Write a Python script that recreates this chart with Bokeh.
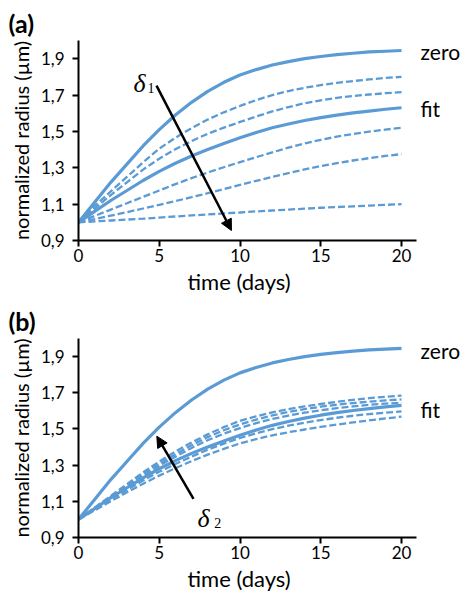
from bokeh.plotting import figure
from bokeh.models import Range1d, FixedTicker, Arrow, NormalHead, Title
from bokeh.layouts import column
from bokeh.embed import file_html
from bokeh.resources import INLINE
from bokeh.core.properties import value

# ---------------- data ----------------
days = list(range(0, 21))

zero = [1.000, 1.110, 1.220, 1.320, 1.420, 1.510, 1.590, 1.660, 1.720, 1.770, 1.810,
        1.840, 1.865, 1.884, 1.900, 1.912, 1.922, 1.930, 1.937, 1.941, 1.945]
fit = [1.000, 1.060, 1.120, 1.175, 1.230, 1.280, 1.325, 1.365, 1.400, 1.434, 1.465,
       1.494, 1.520, 1.541, 1.560, 1.576, 1.590, 1.602, 1.612, 1.622, 1.630]

# panel (a): delta_1 variations
a_d1 = [1.000, 1.090, 1.170, 1.250, 1.330, 1.405, 1.465, 1.518, 1.565, 1.605, 1.640,
        1.672, 1.700, 1.722, 1.740, 1.755, 1.767, 1.777, 1.786, 1.794, 1.800]
a_d2 = [1.000, 1.075, 1.150, 1.220, 1.290, 1.350, 1.402, 1.447, 1.487, 1.521, 1.552,
        1.582, 1.610, 1.634, 1.655, 1.671, 1.685, 1.695, 1.703, 1.710, 1.716]
a_d3 = [1.000, 1.035, 1.070, 1.105, 1.140, 1.175, 1.210, 1.243, 1.274, 1.303, 1.331,
        1.358, 1.385, 1.411, 1.434, 1.454, 1.471, 1.486, 1.499, 1.510, 1.520]
a_d4 = [1.000, 1.018, 1.037, 1.056, 1.076, 1.096, 1.117, 1.138, 1.160, 1.183, 1.206,
        1.228, 1.250, 1.271, 1.291, 1.309, 1.325, 1.340, 1.353, 1.365, 1.375]
a_d5 = [1.000, 1.005, 1.010, 1.015, 1.020, 1.026, 1.032, 1.038, 1.043, 1.049, 1.054,
        1.060, 1.065, 1.070, 1.075, 1.080, 1.084, 1.088, 1.092, 1.096, 1.100]
a_dashed = [a_d1, a_d2, a_d3, a_d4, a_d5]

# panel (b): delta_2 variations
b_d1 = [1.000, 1.065, 1.130, 1.195, 1.260, 1.320, 1.375, 1.425, 1.470, 1.510, 1.545,
        1.570, 1.592, 1.610, 1.625, 1.638, 1.650, 1.661, 1.670, 1.678, 1.684]
b_d2 = [1.000, 1.063, 1.125, 1.188, 1.250, 1.308, 1.360, 1.410, 1.455, 1.493, 1.525,
        1.552, 1.575, 1.594, 1.610, 1.623, 1.634, 1.643, 1.651, 1.658, 1.663]
b_d3 = [1.000, 1.060, 1.120, 1.180, 1.240, 1.296, 1.347, 1.395, 1.438, 1.474, 1.505,
        1.532, 1.555, 1.574, 1.590, 1.603, 1.615, 1.625, 1.633, 1.640, 1.645]
b_d4 = [1.000, 1.055, 1.110, 1.163, 1.215, 1.263, 1.306, 1.347, 1.385, 1.419, 1.450,
        1.476, 1.499, 1.518, 1.535, 1.549, 1.562, 1.573, 1.582, 1.590, 1.597]
b_d5 = [1.000, 1.050, 1.100, 1.150, 1.197, 1.242, 1.283, 1.322, 1.358, 1.390, 1.420,
        1.444, 1.465, 1.482, 1.497, 1.511, 1.524, 1.536, 1.547, 1.558, 1.568]
b_dashed = [b_d1, b_d2, b_d3, b_d4, b_d5]

x_ticks = [0, 5, 10, 15, 20]
y_ticks = [0.9, 1.1, 1.3, 1.5, 1.7, 1.9]
y_tick_labels = ["0,9", "1,1", "1,3", "1,5", "1,7", "1,9"]

panel_labels = ["(a)", "(b)"]
curve_names = ["zero", "fit"]
x_label = "time (days)"
y_label = "normalized radius (\u00b5m)"

# arrows [x_start, y_start, x_end, y_end] in data units
arrow_a = [4.83, 1.752, 9.47, 0.955]
arrow_b = [7.12, 1.114, 4.85, 1.46]

BLUE = "#5B9BD5"
FONT = "Lato"
PX_PER_DAY = 16.15


def make_panel(dashed, arrow, sub, delta_xy, sub_xy, label, name_y, top, height, frame_h):
    p = figure(width=462, height=height,
               x_range=Range1d(0, 384 / PX_PER_DAY), y_range=Range1d(0.9, 2.0),
               output_backend="svg", toolbar_location=None,
               min_border_left=78, min_border_right=0,
               min_border_top=top, min_border_bottom=height - top - frame_h)
    p.outline_line_color = None
    p.grid.visible = False
    p.background_fill_color = "white"
    p.border_fill_color = "white"

    p.title = Title(text=label, align="left", offset=-70, standoff=5,
                    text_font=FONT, text_font_size="25px", text_font_style="bold",
                    text_color="black")

    for ys in dashed:
        p.line(days, ys, line_color=BLUE, line_width=2.3, line_dash="7 3")
    p.line(days, fit, line_color=BLUE, line_width=3.2)
    p.line(days, zero, line_color=BLUE, line_width=3.2)

    # axes
    xa = p.xaxis[0]
    xa.ticker = FixedTicker(ticks=x_ticks)
    xa.bounds = (0, 20.9)
    ya = p.yaxis[0]
    ya.ticker = FixedTicker(ticks=y_ticks)
    ya.bounds = (0.9, 2.0)
    ya.major_label_overrides = {t: s for t, s in zip(y_ticks, y_tick_labels)}
    for ax in (xa, ya):
        ax.axis_line_width = 2
        ax.axis_line_color = "black"
        ax.major_tick_line_width = 2
        ax.major_tick_line_color = "black"
        ax.major_tick_in = 0
        ax.major_tick_out = 6
        ax.minor_tick_line_color = None
        ax.major_label_text_font = FONT
        ax.major_label_text_font_size = "17px"
        ax.major_label_text_color = "black"
        ax.axis_label_text_font = FONT
        ax.axis_label_text_font_style = "normal"
        ax.axis_label_text_color = "black"
    ya.axis_label = y_label
    ya.axis_label_text_font_size = "20px"
    xa.major_label_standoff = 2
    ya.major_label_standoff = 8
    ya.axis_label_standoff = 5

    # x axis label, offset so that it is centred under the drawn axis line
    p.add_layout(Title(text=x_label, align="left", offset=109, standoff=2,
                       text_font=FONT, text_font_size="22px", text_font_style="normal",
                       text_color="black"), "below")

    # curve names
    p.text(x=[21.18, 21.18], y=name_y, text=curve_names,
           text_font=value(FONT), text_font_size="21px",
           text_baseline="middle", text_align="left", text_color="black")

    # delta label
    p.text(x=[delta_xy[0]], y=[delta_xy[1]], text=["\u03b4"],
           text_font=value("Liberation Serif"), text_font_style="italic",
           text_font_size="26px", text_baseline="alphabetic", text_color="black")
    p.text(x=[sub_xy[0]], y=[sub_xy[1]], text=[sub],
           text_font=value("Liberation Serif"), text_font_size="14px",
           text_baseline="alphabetic", text_color="black")

    p.add_layout(Arrow(end=NormalHead(size=11, fill_color="black", line_color="black", line_width=1),
                       x_start=arrow[0], y_start=arrow[1], x_end=arrow[2], y_end=arrow[3],
                       line_color="black", line_width=2.5))
    return p


pa = make_panel(a_dashed, arrow_a, "1", (3.41, 1.763), (4.28, 1.741), panel_labels[0],
                [1.938, 1.625], 40, 300, 200)
pb = make_panel(b_dashed, arrow_b, "2", (7.37, 1.004), (8.40, 0.982), panel_labels[1],
                [1.936, 1.607], 38, 299, 199)

layout = column(pa, pb, spacing=0)
open("out.html", "w").write(file_html(layout, INLINE))
